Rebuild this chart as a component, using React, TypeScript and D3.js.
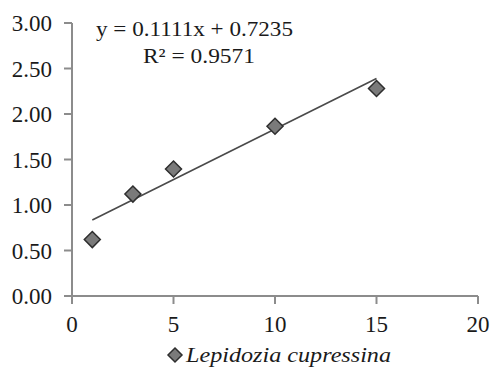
import React from "react";
import * as d3 from "d3";

const xValues = [1, 3, 5, 10, 15];
const yValues = [0.62, 1.12, 1.395, 1.865, 2.28];
const slope = 0.1111;
const intercept = 0.7235;
const equationLabel = "y = 0.1111x + 0.7235";
const r2Label = "R² = 0.9571";
const seriesName = "Lepidozia cupressina";
const xTicks = [0, 5, 10, 15, 20];
const yTicks = [0, 0.5, 1, 1.5, 2, 2.5, 3];

const W = 493;
const H = 372;

export default function App() {
  const x = d3.scaleLinear().domain([0, 20]).range([72, 478]);
  const y = d3.scaleLinear().domain([0, 3]).range([296, 23]);
  const font = "'Liberation Serif', 'Times New Roman', serif";
  const axisColor = "#8c8c8c";
  const textColor = "#1a1a1a";
  const diamond = (cx: number, cy: number, r: number) =>
    `M${cx},${cy - r}L${cx + r},${cy}L${cx},${cy + r}L${cx - r},${cy}Z`;
  const line = d3
    .line<number>()
    .x((d) => x(d))
    .y((d) => y(slope * d + intercept));
  const xmin = d3.min(xValues) as number;
  const xmax = d3.max(xValues) as number;

  return (
    <svg
      width={W}
      height={H}
      style={{ position: "absolute", left: 0, top: 0, background: "#fff" }}
    >
      {/* y axis */}
      <line x1={x(0)} x2={x(0)} y1={y(3)} y2={y(0)} stroke={axisColor} strokeWidth={2} />
      {yTicks.map((t) => (
        <g key={"y" + t}>
          <line x1={x(0) - 8} x2={x(0)} y1={y(t)} y2={y(t)} stroke={axisColor} strokeWidth={2} />
          <text
            x={52}
            y={y(t)}
            dy="0.35em"
            textAnchor="end"
            fontFamily={font}
            fontSize={23}
            fill={textColor}
          >
            {d3.format(".2f")(t)}
          </text>
        </g>
      ))}
      {/* x axis */}
      <line x1={x(0)} x2={x(20)} y1={y(0)} y2={y(0)} stroke={axisColor} strokeWidth={2} />
      {xTicks.map((t) => (
        <g key={"x" + t}>
          <line x1={x(t)} x2={x(t)} y1={y(0)} y2={y(0) + 8} stroke={axisColor} strokeWidth={2} />
          <text
            x={x(t)}
            y={332}
            textAnchor="middle"
            fontFamily={font}
            fontSize={23}
            fill={textColor}
          >
            {t}
          </text>
        </g>
      ))}
      {/* trendline */}
      <path d={line([xmin, xmax]) || ""} stroke="#4a4a4a" strokeWidth={1.6} fill="none" />
      {/* points */}
      {xValues.map((v, i) => (
        <path
          key={"p" + i}
          d={diamond(x(v), y(yValues[i]), 8)}
          fill="#7a7a7a"
          stroke="#2e2e2e"
          strokeWidth={1.5}
        />
      ))}
      {/* equation */}
      <text
        x={96}
        y={36}
        fontFamily={font}
        fontSize={22}
        fill={textColor}
        textLength={197}
        lengthAdjust="spacingAndGlyphs"
      >
        {equationLabel}
      </text>
      <text
        x={143}
        y={63}
        fontFamily={font}
        fontSize={22}
        fill={textColor}
        textLength={112}
        lengthAdjust="spacingAndGlyphs"
      >
        {r2Label}
      </text>
      {/* legend */}
      <path d={diamond(175, 355, 7)} fill="#7a7a7a" stroke="#2e2e2e" strokeWidth={1.5} />
      <text
        x={186}
        y={362}
        fontFamily={font}
        fontStyle="italic"
        fontSize={22}
        fill={textColor}
        textLength={205}
        lengthAdjust="spacingAndGlyphs"
      >
        {seriesName}
      </text>
    </svg>
  );
}
